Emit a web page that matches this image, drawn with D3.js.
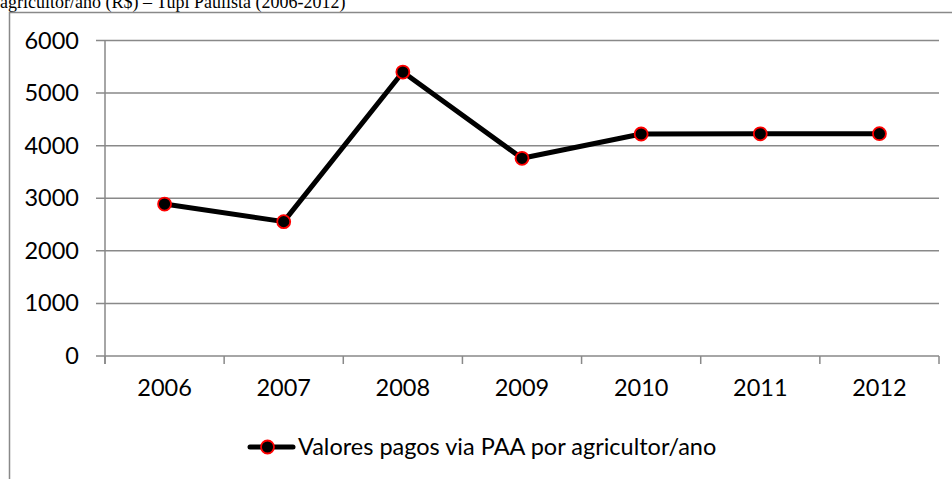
<!DOCTYPE html>
<html>
<head>
<meta charset="utf-8">
<script src="https://cdn.jsdelivr.net/npm/d3@7"></script>
<style>
  body { margin: 0; background: #fff; }
  svg { display: block; }
</style>
</head>
<body>
<div id="chart"></div>
<script>
// dados
const years = ["2006", "2007", "2008", "2009", "2010", "2011", "2012"];
const valores = [2890, 2555, 5400, 3760, 4222, 4226, 4228];
const yTicks = [0, 1000, 2000, 3000, 4000, 5000, 6000];
const seriesName = "Valores pagos via PAA por agricultor/ano";
const titleText = "agricultor/ano (R$) – Tupi Paulista (2006-2012)";

const width = 952, height = 479;
const margin = { top: 40.5, right: 13, bottom: 123, left: 105 };
const grey = "#898989";
const labelFont = "Lato, 'Open Sans', sans-serif";
const labelSize = "23.5px";

const svg = d3.select("#chart")
  .append("svg")
  .attr("width", width)
  .attr("height", height);

// título cortado no topo
svg.append("text")
  .attr("x", 0)
  .attr("y", 7.5)
  .attr("font-family", "'Liberation Serif', 'Times New Roman', serif")
  .attr("font-size", "18px")
  .attr("fill", "#000")
  .text(titleText);

// moldura do gráfico
svg.append("path")
  .attr("d", `M9.5,${height} V12.5 H${width}`)
  .attr("fill", "none")
  .attr("stroke", grey)
  .attr("stroke-width", 1.5);

const x = d3.scaleBand()
  .domain(years)
  .range([margin.left, width - margin.right]);

const y = d3.scaleLinear()
  .domain([0, 6000])
  .range([height - margin.bottom, margin.top]);

// linhas de grade
svg.append("g")
  .selectAll("line")
  .data(yTicks)
  .join("line")
  .attr("x1", margin.left - 9)
  .attr("x2", width - margin.right)
  .attr("y1", d => y(d))
  .attr("y2", d => y(d))
  .attr("stroke", grey)
  .attr("stroke-width", 1.5);

// eixo y
const yAxis = svg.append("g")
  .attr("transform", `translate(${margin.left},0)`)
  .call(d3.axisLeft(y).tickValues(yTicks).tickFormat(d3.format("d")).tickSize(0).tickPadding(26));
yAxis.select(".domain").remove();
yAxis.selectAll("text")
  .attr("font-family", labelFont)
  .attr("font-size", labelSize)
  .attr("fill", "#000");

svg.append("line")
  .attr("x1", margin.left).attr("x2", margin.left)
  .attr("y1", margin.top).attr("y2", y(0) + 8)
  .attr("stroke", grey)
  .attr("stroke-width", 1.5);

// eixo x
const xAxis = svg.append("g")
  .attr("transform", `translate(0,${y(0)})`)
  .call(d3.axisBottom(x).tickSize(0).tickPadding(23));
xAxis.select(".domain").remove();
xAxis.selectAll("text")
  .attr("font-family", labelFont)
  .attr("font-size", labelSize)
  .attr("fill", "#000");

svg.append("g")
  .selectAll("line")
  .data(years.map(d => x(d)).concat([x(years[years.length - 1]) + x.bandwidth()]))
  .join("line")
  .attr("x1", d => d).attr("x2", d => d)
  .attr("y1", y(0)).attr("y2", y(0) + 8)
  .attr("stroke", grey)
  .attr("stroke-width", 1.5);

// série
const pts = years.map((yr, i) => ({ yr, v: valores[i] }));
const cx = d => x(d.yr) + x.bandwidth() / 2;

svg.append("path")
  .datum(pts)
  .attr("fill", "none")
  .attr("stroke", "#000")
  .attr("stroke-width", 5)
  .attr("stroke-linejoin", "round")
  .attr("d", d3.line().x(cx).y(d => y(d.v)));

svg.append("g")
  .selectAll("circle")
  .data(pts)
  .join("circle")
  .attr("cx", cx)
  .attr("cy", d => y(d.v))
  .attr("r", 6.5)
  .attr("fill", "#000")
  .attr("stroke", "#ff0000")
  .attr("stroke-width", 1.8);

// legenda
const leg = svg.append("g").attr("transform", "translate(250,447)");
leg.append("line")
  .attr("x1", 0).attr("x2", 43)
  .attr("stroke", "#000")
  .attr("stroke-width", 5)
  .attr("stroke-linecap", "round");
leg.append("circle")
  .attr("cx", 17.5)
  .attr("r", 6.5)
  .attr("fill", "#000")
  .attr("stroke", "#ff0000")
  .attr("stroke-width", 1.8);
leg.append("text")
  .attr("x", 48)
  .attr("dy", "0.35em")
  .attr("font-family", labelFont)
  .attr("font-size", labelSize)
  .attr("fill", "#000")
  .text(seriesName);
</script>
</body>
</html>
